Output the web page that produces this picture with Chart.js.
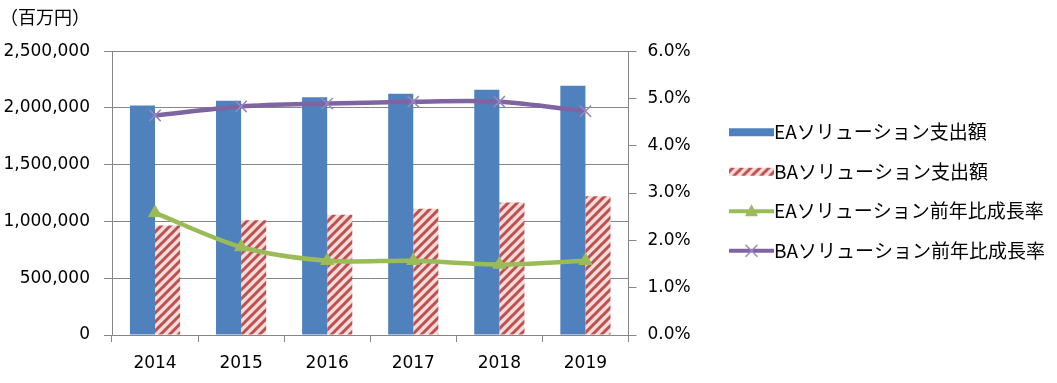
<!DOCTYPE html>
<html>
<head>
<meta charset="utf-8">
<script src="https://cdn.jsdelivr.net/npm/chart.js@4"></script>
<style>
	html, body { margin: 0; padding: 0; background: #fff; }
	#wrap { width: 1057px; height: 383px; }
</style>
</head>
<body>
<div id="wrap"><canvas id="spendChart"></canvas></div>
<script>
// Data
const years = ['2014', '2015', '2016', '2017', '2018', '2019'];
const eaSpend = [2021000, 2062000, 2094000, 2125000, 2160000, 2195000];   // 百万円
const baSpend = [965000, 1011000, 1060000, 1112000, 1166000, 1221000];    // 百万円
const eaGrowth = [2.58, 1.86, 1.57, 1.57, 1.49, 1.57];                    // %
const baGrowth = [4.64, 4.83, 4.89, 4.93, 4.93, 4.73];                    // %
const seriesNames = ['EAソリューション支出額', 'BAソリューション支出額', 'EAソリューション前年比成長率', 'BAソリューション前年比成長率'];

const blue = '#4F81BD';
const red = '#C0504D';
const pink = '#F2DCDB';
const green = '#9BBB59';
const purple = '#8064A2';
const gridColor = '#868686';
const numFont = { family: 'DejaVu Sans', size: 17 };

// diagonal hatch for the BA bars
function makeHatch() {
	const c = document.createElement('canvas');
	c.width = 9; c.height = 9;
	const g = c.getContext('2d');
	g.fillStyle = pink;
	g.fillRect(0, 0, 9, 9);
	g.strokeStyle = red;
	g.lineWidth = 3;
	g.beginPath();
	g.moveTo(-2, 11); g.lineTo(11, -2);
	g.moveTo(-2, 2); g.lineTo(2, -2);
	g.moveTo(7, 11); g.lineTo(11, 7);
	g.stroke();
	return document.createElement('canvas').getContext('2d').createPattern(c, 'repeat');
}
const hatch = makeHatch();

// legend icons (45px wide, Excel style)
function legendIcon(kind) {
	const c = document.createElement('canvas');
	c.width = 45; c.height = 18;
	const g = c.getContext('2d');
	if (kind === 'blue') {
		g.fillStyle = blue;
		g.fillRect(0, 5, 45, 8);
	} else if (kind === 'hatch') {
		g.fillStyle = hatch;
		g.fillRect(0, 5, 45, 8);
	} else {
		g.strokeStyle = kind === 'green' ? green : purple;
		g.lineWidth = 4;
		g.beginPath(); g.moveTo(0, 9); g.lineTo(45, 9); g.stroke();
		if (kind === 'green') {
			g.fillStyle = green;
			g.beginPath(); g.moveTo(22.5, 2); g.lineTo(29, 14); g.lineTo(16, 14); g.closePath(); g.fill();
		} else {
			g.lineWidth = 1.5;
			g.strokeStyle = '#9a84c0';
			g.beginPath();
			g.moveTo(16.5, 3); g.lineTo(28.5, 15);
			g.moveTo(28.5, 3); g.lineTo(16.5, 15);
			g.stroke();
		}
	}
	return c;
}
const icons = [legendIcon('blue'), legendIcon('hatch'), legendIcon('green'), legendIcon('purple')];

new Chart(document.getElementById('spendChart'), {
	type: 'bar',
	data: {
		labels: years,
		datasets: [{
			label: seriesNames[0],
			data: eaSpend,
			backgroundColor: blue,
			yAxisID: 'y',
			order: 2,
			barPercentage: 1,
			categoryPercentage: 0.583
		}, {
			label: seriesNames[1],
			data: baSpend,
			backgroundColor: hatch,
			yAxisID: 'y',
			order: 2,
			barPercentage: 1,
			categoryPercentage: 0.583
		}, {
			type: 'line',
			label: seriesNames[2],
			data: eaGrowth,
			yAxisID: 'y1',
			order: 1,
			borderColor: green,
			backgroundColor: green,
			borderWidth: 4.5,
			tension: 0.3,
			pointStyle: 'triangle',
			pointRadius: 7.5,
			pointBorderWidth: 1
		}, {
			type: 'line',
			label: seriesNames[3],
			data: baGrowth,
			yAxisID: 'y1',
			order: 1,
			borderColor: purple,
			backgroundColor: purple,
			borderWidth: 4.5,
			tension: 0.3,
			pointStyle: 'crossRot',
			pointRadius: 8,
			pointBorderWidth: 1.5,
			pointBorderColor: '#9a84c0'
		}]
	},
	options: {
		responsive: true,
		maintainAspectRatio: false,
		animation: false,
		layout: { padding: { left: 0, right: 2, top: 0, bottom: 0 } },
		plugins: {
			title: {
				display: true,
				text: '（百万円）',
				align: 'start',
				color: '#000',
				font: { family: 'Noto Sans CJK JP', size: 18, weight: 'normal' },
				padding: { top: 6, bottom: 23.5 }
			},
			legend: {
				position: 'right',
				maxWidth: 360,
				labels: {
					color: '#000',
					font: { family: 'Noto Sans CJK JP', size: 19 },
					usePointStyle: true,
					pointStyleWidth: 26,
					padding: 20.5,
					sort: (a, b) => a.datasetIndex - b.datasetIndex,
					generateLabels: chart => Chart.defaults.plugins.legend.labels.generateLabels(chart)
						.map(item => Object.assign(item, { pointStyle: icons[item.datasetIndex] }))
				}
			},
			tooltip: { enabled: false }
		},
		scales: {
			x: {
				grid: { drawOnChartArea: false, color: gridColor, tickLength: 7 },
				border: { color: gridColor },
				ticks: { color: '#000', font: numFont, padding: 11 },
				afterFit: s => { s.height = 48; }
			},
			y: {
				position: 'left',
				min: 0,
				max: 2500000,
				grid: { color: gridColor, tickLength: 8 },
				border: { color: gridColor },
				ticks: {
					stepSize: 500000,
					color: '#000',
					font: numFont,
					padding: 14,
					callback: v => v.toLocaleString('en-US')
				},
				afterFit: s => { s.width = 112; }
			},
			y1: {
				position: 'right',
				min: 0,
				max: 6,
				grid: { drawOnChartArea: false, color: gridColor, tickLength: 8 },
				border: { color: gridColor },
				ticks: {
					stepSize: 1,
					color: '#000',
					font: numFont,
					padding: 11,
					callback: v => v.toFixed(1) + '%'
				},
				afterFit: s => { s.width = 89.5; }
			}
		}
	}
});
</script>
</body>
</html>
